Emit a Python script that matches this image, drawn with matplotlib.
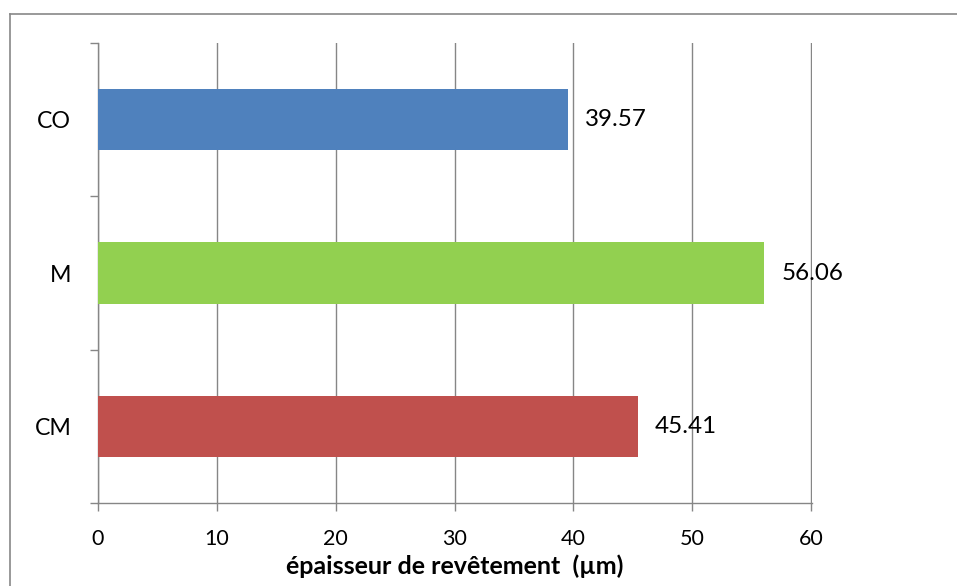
import matplotlib
matplotlib.use("Agg")
import matplotlib.pyplot as plt
from matplotlib.lines import Line2D

# Coating thickness by sample
categories = ["CO", "M", "CM"]
values = [39.57, 56.06, 45.41]
colors = ["#4F81BD", "#92D050", "#C0504D"]
x_ticks = [0, 10, 20, 30, 40, 50, 60]
x_label = "épaisseur de revêtement  (µm)"

plt.rcParams["font.family"] = ["Lato", "DejaVu Sans"]
grid_color = "#868686"

W, H = 957, 586
fig = plt.figure(figsize=(W / 100, H / 100), dpi=100)
ax = fig.add_axes([97.7 / W, 1 - 503 / H, (811.7 - 97.7) / W, (503 - 43) / H])

ypos = list(range(len(categories)))
ax.barh(ypos, values, height=0.4, color=colors, zorder=3)

for y, v in zip(ypos, values):
    ax.annotate(f"{v:.2f}", xy=(v, y), xytext=(12, 0), textcoords="offset points",
                ha="left", va="center", fontsize=17.4, zorder=4)

ax.set_xlim(0, 60.03)
ax.set_ylim(len(categories) - 0.5, -0.5)

ax.set_xticks(x_ticks)
ax.set_xticklabels([str(t) for t in x_ticks], fontsize=15.5)
ax.xaxis.grid(True, color=grid_color, linewidth=1.0, zorder=0)
ax.tick_params(axis="x", direction="out", length=6, width=1.0, color=grid_color, pad=12.5)

# category boundaries carry the tick marks, centres carry the labels
ax.set_yticks([i - 0.5 for i in range(len(categories) + 1)])
ax.set_yticklabels([])
ax.set_yticks(ypos, minor=True)
ax.set_yticklabels(categories, minor=True, fontsize=16.7)
ax.tick_params(axis="y", which="major", direction="out", length=6, width=1.0, color=grid_color)
ax.tick_params(axis="y", which="minor", length=0, pad=19)

for side in ("top", "right"):
    ax.spines[side].set_visible(False)
for side in ("left", "bottom"):
    ax.spines[side].set_color(grid_color)
    ax.spines[side].set_linewidth(1.0)

ax.set_xlabel(x_label, fontsize=18, fontweight="bold", labelpad=4)

# chart frame (extends past the right and bottom edges)
frame_kw = dict(color="#888888", linewidth=1.2, transform=fig.transFigure)
fig.add_artist(Line2D([9.5 / W, 9.5 / W], [1 - 14 / H, -0.1], **frame_kw))
fig.add_artist(Line2D([9.5 / W, 1.1], [1 - 14 / H, 1 - 14 / H], **frame_kw))

fig.savefig("out.png", dpi=100)
